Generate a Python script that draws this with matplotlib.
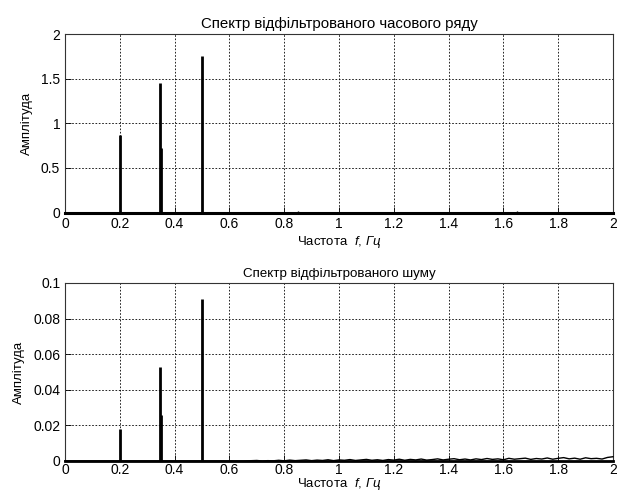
import numpy as np
import matplotlib

matplotlib.use("Agg")

import matplotlib.pyplot as plt

plt.rcParams["font.family"] = ["Liberation Sans", "DejaVu Sans"]
plt.rcParams["mathtext.fontset"] = "custom"
plt.rcParams["mathtext.rm"] = "Liberation Sans"
plt.rcParams["mathtext.it"] = "Liberation Sans:italic"

# spectral peaks (frequency, amplitude)
peak_freq = [0.2, 0.345, 0.35, 0.5]
series_amp = [0.87, 1.45, 0.72, 1.75]
noise_amp = [0.018, 0.053, 0.026, 0.091]

# tiny residual peaks in the filtered series
small_freq = [0.85, 1.47, 1.65]
small_amp = [0.012, 0.01, 0.012]

# noise floor of the filtered noise spectrum
floor_freq = [0.0, 0.65, 0.7, 0.72, 0.74, 0.76, 0.78, 0.8, 0.82, 0.84, 0.86,
              0.88, 0.9, 0.92, 0.94, 0.96, 0.98, 1.0, 1.02, 1.04, 1.06, 1.08,
              1.1, 1.12, 1.14, 1.16, 1.18, 1.2, 1.22, 1.24, 1.26, 1.28, 1.3,
              1.32, 1.34, 1.36, 1.38, 1.4, 1.42, 1.44, 1.46, 1.48, 1.5, 1.52,
              1.54, 1.56, 1.58, 1.6, 1.62, 1.64, 1.66, 1.68, 1.7, 1.72, 1.74,
              1.76, 1.78, 1.8, 1.82, 1.84, 1.86, 1.88, 1.9, 1.92, 1.94, 1.96,
              1.98, 2.0]
floor_amp = [0.0, 0.0, 0.0003, 0.0, 0.0002, 0.0001, 0.0004, 0.0001, 0.0005,
             0.0002, 0.0004, 0.0006, 0.0002, 0.0005, 0.0003, 0.0007, 0.0002,
             0.0006, 0.0004, 0.0008, 0.0003, 0.0006, 0.0009, 0.0004, 0.0007,
             0.0003, 0.0008, 0.0005, 0.0010, 0.0004, 0.0009, 0.0006, 0.0011,
             0.0005, 0.0008, 0.0012, 0.0006, 0.0010, 0.0013, 0.0007, 0.0011,
             0.0006, 0.0012, 0.0008, 0.0014, 0.0009, 0.0012, 0.0007, 0.0015,
             0.0010, 0.0013, 0.0016, 0.0009, 0.0014, 0.0011, 0.0017, 0.0010,
             0.0015, 0.0019, 0.0012, 0.0016, 0.0010, 0.0018, 0.0013, 0.0015,
             0.0011, 0.0020, 0.0024]

x_ticks = [0, 0.2, 0.4, 0.6, 0.8, 1, 1.2, 1.4, 1.6, 1.8, 2]

fig = plt.figure(figsize=(6.17, 4.92), dpi=100)
ax1 = fig.add_axes([65 / 617, 1 - 212.5 / 492, 548 / 617, 178.5 / 492])
ax2 = fig.add_axes([65 / 617, 1 - 461 / 492, 548 / 617, 178 / 492])


def style(ax, title, title_size, ylim, yticks, tickpad, xpad):
    ax.set_xlim(0, 2)
    ax.set_ylim(*ylim)
    ax.set_xticks(x_ticks)
    ax.set_xticklabels([("%g" % t) for t in x_ticks])
    ax.set_yticks(yticks)
    ax.set_yticklabels([("%g" % t) for t in yticks])
    ax.grid(True, color="black", linestyle=(0, (2, 2)), linewidth=0.6)
    ax.tick_params(direction="in", length=4, labelsize=10, width=0.6,
                   colors="black")
    ax.tick_params(axis="x", pad=tickpad)
    for s in ax.spines.values():
        s.set_linewidth(0.8)
        s.set_color("#333333")
    ax.set_title(title, fontsize=title_size, pad=4)
    ax.set_xlabel("Частота  $\\it{f}$, $\\it{Гц}$", fontsize=9.5,
                  labelpad=xpad)
    ax.set_ylabel("Амплітуда", fontsize=9.5, labelpad=6)


ax1.plot([0, 2], [0, 0], color="black", linewidth=2.2, clip_on=False, zorder=3)
ax1.vlines(peak_freq, 0, series_amp, color="black", linewidth=2)
ax1.vlines(small_freq, 0, small_amp, color="black", linewidth=1)
style(ax1, "Спектр відфільтрованого часового ряду", 10.8, (0, 2),
      [0, 0.5, 1, 1.5, 2], 3.5, 2)

ax2.plot([0, 2], [0, 0], color="black", linewidth=2, clip_on=False, zorder=3)
ax2.plot(floor_freq, floor_amp, color="black", linewidth=1, clip_on=False,
         zorder=3)
ax2.vlines(peak_freq, 0, noise_amp, color="black", linewidth=2)
style(ax2, "Спектр відфільтрованого шуму", 9.6, (0, 0.1),
      [0, 0.02, 0.04, 0.06, 0.08, 0.1], 1.5, -1)

fig.savefig("out.png", dpi=100)
plt.close(fig)
